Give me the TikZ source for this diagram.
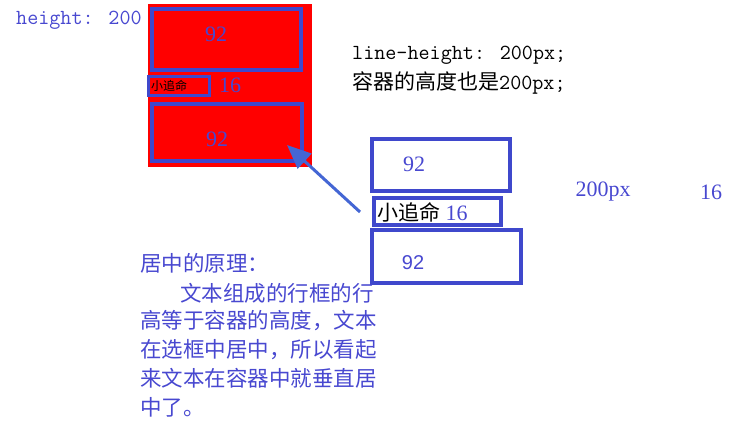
\documentclass[tikz,border=0pt]{standalone}
\usepackage{fontspec}
\newfontfamily\cjk{Noto Sans CJK SC}
\newfontfamily\arialf{Liberation Sans}
\newfontfamily\timesf{Liberation Serif}
\usetikzlibrary{arrows.meta}
\definecolor{boxblue}{HTML}{3F48CC}
\definecolor{txtblue}{HTML}{4848D0}
\definecolor{arrblue}{HTML}{4466D4}
\definecolor{redfill}{HTML}{FF0000}
\begin{document}
\begin{tikzpicture}[x=1pt,y=-1pt,
  bluebox/.style={draw=boxblue,line width=4pt,inner sep=0pt},
  thinbox/.style={draw=boxblue,line width=3pt,inner sep=0pt},
  lbl/.style={inner sep=0pt,text=txtblue,font=\timesf\fontsize{22}{24}\selectfont},
  sanslbl/.style={inner sep=0pt,text=txtblue,font=\arialf\fontsize{20}{24}\selectfont},
  monolbl/.style={inner sep=0pt,anchor=west,font=\ttfamily\fontsize{21.5}{24}\selectfont},
  para/.style={inner sep=0pt,anchor=west,text=txtblue,font=\cjk\fontsize{21.5}{24}\selectfont},
  pointer/.style={draw=arrblue,line width=3pt,-{Triangle[length=24pt,width=20pt,fill=arrblue]}}]
\useasboundingbox (0,0) rectangle (752,430);

% left container
\node[fill=redfill,inner sep=0pt,minimum width=164pt,minimum height=163pt] (red) at (230,85.5) {};
\node[bluebox,minimum width=149pt,minimum height=61pt] (lb1) at (226.5,39.5) {};
\node[thinbox,minimum width=61pt,minimum height=19pt] (lsm) at (179,86) {};
\node[bluebox,minimum width=150pt,minimum height=57pt] (lb2) at (227,132.5) {};
\node[lbl] (l92a) at (216,34) {92};
\node[inner sep=0pt,anchor=west,font=\cjk\fontsize{12}{14}\selectfont] (lxzm) at (151,86) {小追命};
\node[lbl] (l16) at (230,85) {16};
\node[lbl] (l92b) at (217,139) {92};

% labels
\node[monolbl,text=txtblue] (hgt) at (16,20) {height: 200};
\node[monolbl] (lh) at (352,55) {line-height: 200px;};
\node[inner sep=0pt,anchor=west] (rq) at (352,83) {{\cjk\fontsize{21}{24}\selectfont 容器的高度也是}{\ttfamily\fontsize{21.5}{24}\selectfont 200px;}};

% right boxes
\node[bluebox,minimum width=138pt,minimum height=52pt] (ra) at (441,165) {};
\node[bluebox,minimum width=127pt,minimum height=27pt] (rb) at (437.5,211.5) {};
\node[bluebox,minimum width=149pt,minimum height=53pt] (rc) at (446.5,256.5) {};
\node[lbl] (r92a) at (414,164) {92};
\node[inner sep=0pt,anchor=west] (rxzm) at (377,212) {{\cjk\fontsize{21}{24}\selectfont 小追命}{\timesf\color{txtblue}\fontsize{22}{24}\selectfont\ 16}};
\node[sanslbl] (r92c) at (413,263) {92};
\node[lbl] (r200) at (603,192) {200px};
\node[lbl] (r16) at (711,192) {16};

% arrow
\coordinate (astart) at (360,212);
\coordinate (aend) at (287,145);
\draw[pointer] (astart) -- (aend);

% paragraph
\node[para] (p1) at (140,263) {居中的原理：};
\node[para] (p2) at (180,293) {文本组成的行框的行};
\node[para] (p3) at (140,321) {高等于容器的高度，文本};
\node[para] (p4) at (140,350) {在选框中居中，所以看起};
\node[para] (p5) at (140,378) {来文本在容器中就垂直居};
\node[para] (p6) at (140,407) {中了。};
\end{tikzpicture}
\end{document}
